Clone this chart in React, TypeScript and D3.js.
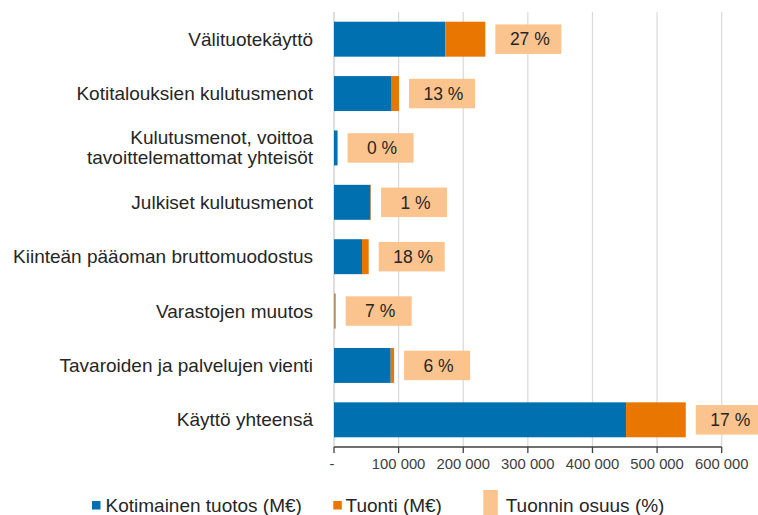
import React from "react";
import * as d3 from "d3";

const categories: string[][] = [
  ["Välituotekäyttö"],
  ["Kotitalouksien kulutusmenot"],
  ["Kulutusmenot, voittoa", "tavoittelemattomat yhteisöt"],
  ["Julkiset kulutusmenot"],
  ["Kiinteän pääoman bruttomuodostus"],
  ["Varastojen muutos"],
  ["Tavaroiden ja palvelujen vienti"],
  ["Käyttö yhteensä"],
];
const kotimainen: number[] = [172300, 88200, 5500, 56500, 43300, 800, 87800, 452000];
const tuonti: number[] = [61900, 12400, 0, 800, 10400, 1800, 5200, 92400];
const osuus: number[] = [27, 13, 0, 1, 18, 7, 6, 17];
const tickValues: number[] = [0, 100000, 200000, 300000, 400000, 500000, 600000];
const legendLabels = ["Kotimainen tuotos (M€)", "Tuonti (M€)", "Tuonnin osuus (%)"];

const BLUE = "#0070b0";
const ORANGE = "#e97601";
const PEACH = "#fbc48f";
const FONT = "'Liberation Sans', Arial, sans-serif";

export default function App() {
  const W = 758;
  const H = 515;
  const x = d3.scaleLinear().domain([0, 600000]).range([334, 721.7]);
  const idx = categories.map((_, i) => i);
  const y = d3
    .scaleBand<number>()
    .domain(idx)
    .range([12, 447])
    .paddingInner(0.357)
    .paddingOuter(0.1785);
  const bw = y.bandwidth();
  const fmt = (v: number) => (v === 0 ? "-" : d3.format(",")(v).replace(/,/g, " "));

  return (
    <svg
      width={W}
      height={H}
      style={{ position: "absolute", left: 0, top: 0, display: "block", background: "#fff" }}
      fontFamily={FONT}
    >
      <rect x={0} y={0} width={W} height={H} fill="#fff" />
      {/* gridlines */}
      {tickValues.map((t) => (
        <line
          key={"g" + t}
          x1={x(t)}
          x2={x(t)}
          y1={12}
          y2={447}
          stroke={t === 0 ? "#c8c8c8" : "#d9d9d9"}
          strokeWidth={1.2}
        />
      ))}
      {/* bars */}
      {idx.map((i) => {
        const y0 = y(i)!;
        const k = kotimainen[i];
        const tt = tuonti[i];
        const end = x(k + tt);
        const cy = y0 + bw / 2;
        return (
          <g key={"b" + i}>
            <rect x={x(0)} y={y0} width={x(k) - x(0)} height={bw} fill={BLUE} />
            <rect x={x(k)} y={y0} width={x(k + tt) - x(k)} height={bw} fill={ORANGE} />
            <rect x={end + 10} y={cy - 14.75} width={66} height={29.5} fill={PEACH} />
            <text
              x={end + 10 + 34.5}
              y={cy}
              dy="0.36em"
              textAnchor="middle"
              fontSize={17.5}
              fill="#262626"
            >
              {osuus[i] + " %"}
            </text>
          </g>
        );
      })}
      {/* category labels */}
      {idx.map((i) => {
        const cy = y(i)! + bw / 2;
        const lines = categories[i];
        return (
          <text key={"c" + i} textAnchor="end" fontSize={19} fill="#262626">
            {lines.map((l, j) => (
              <tspan key={j} x={313} y={cy + (j - (lines.length - 1) / 2) * 20 + 6.5}>
                {l}
              </tspan>
            ))}
          </text>
        );
      })}
      {/* x axis */}
      <line x1={x(0)} x2={x(600000)} y1={447} y2={447} stroke="#404040" strokeWidth={1.3} />
      {tickValues.map((t) => (
        <g key={"t" + t}>
          <line x1={x(t)} x2={x(t)} y1={447} y2={453} stroke="#404040" strokeWidth={1.3} />
          <text
            x={t === 0 ? x(t) - 2 : x(t)}
            y={468.5}
            textAnchor="middle"
            fontSize={14.8}
            fill="#404040"
          >
            {fmt(t)}
          </text>
        </g>
      ))}
      {/* legend */}
      <rect x={92} y={501} width={8.5} height={8.5} fill={BLUE} />
      <text x={105.5} y={512.3} fontSize={19} fill="#262626">
        {legendLabels[0]}
      </text>
      <rect x={333.3} y={501} width={8.5} height={8.5} fill={ORANGE} />
      <text x={345.5} y={512.3} fontSize={19} fill="#262626">
        {legendLabels[1]}
      </text>
      <rect x={483.3} y={490} width={14.5} height={28} fill={PEACH} />
      <text x={505.7} y={512.3} fontSize={19} fill="#262626">
        {legendLabels[2]}
      </text>
    </svg>
  );
}
